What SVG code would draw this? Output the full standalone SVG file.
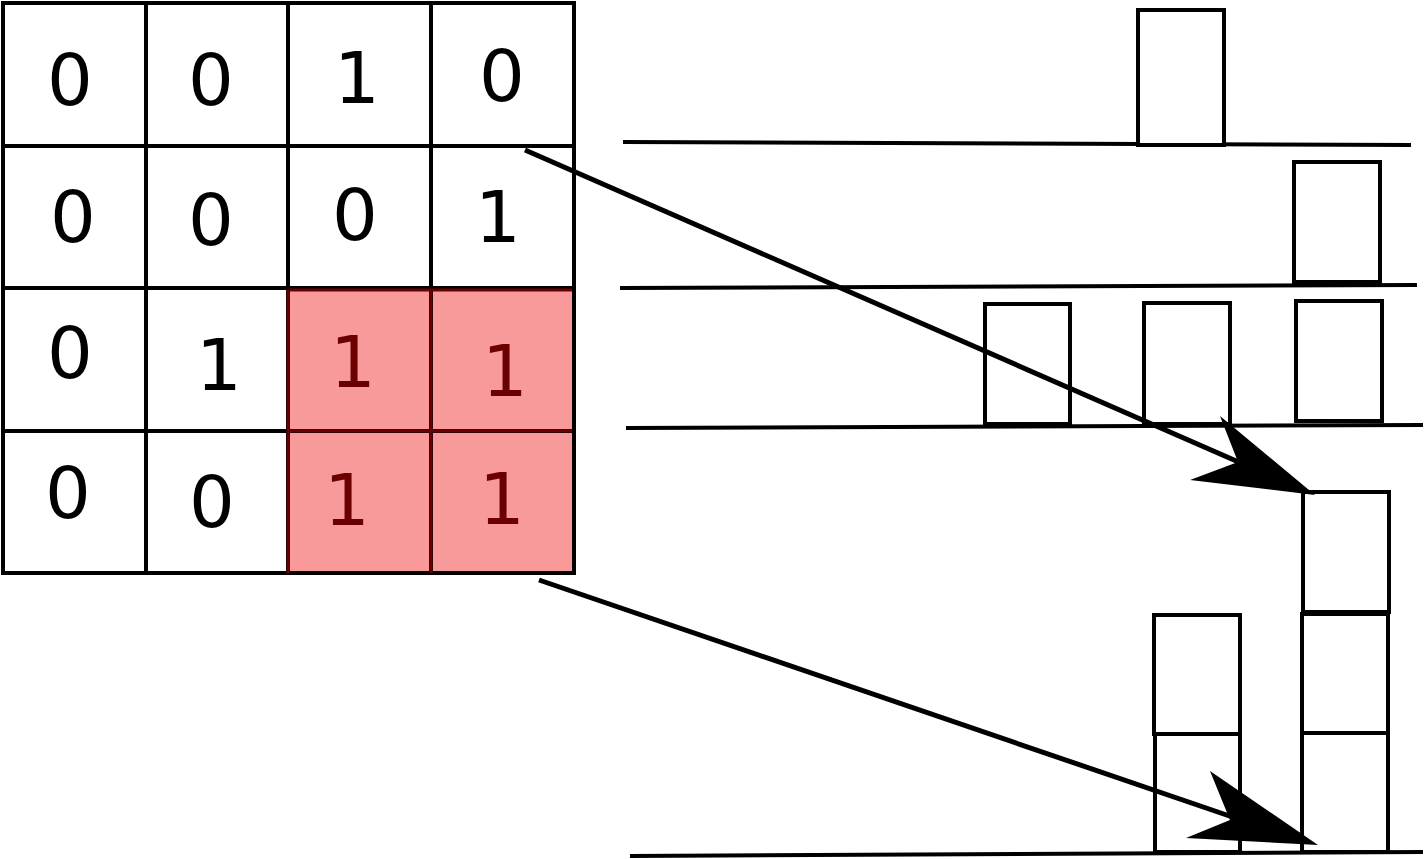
<svg xmlns="http://www.w3.org/2000/svg" width="1427" height="859" viewBox="0 0 1427 859">
<style>
.g{stroke:#000;stroke-width:4;fill:none}
.t{font-family:"DejaVu Sans",sans-serif;font-size:72px;text-anchor:middle;fill:#000}
.r{fill:#6b0000}
.b{fill:#fff;stroke:#000;stroke-width:4}
.c{stroke:#000;stroke-width:5;fill:none}
</style>
<rect width="1427" height="859" fill="#fff"/>
<g id="matrix">
<rect x="288" y="288" width="286" height="285" fill="#f89a9a" stroke="#888" stroke-width="4"/>
<path class="g" d="M3 3H574V573H3Z M146 3V573 M288 3V573 M431 3V573 M3 146H574 M3 288H574 M3 431H574"/>
<path d="M288 290V573 M431 290V573 M290 431H572 M290 290H572" stroke="#6b0000" stroke-width="3"/>
<text class="t" x="70" y="105">0</text><text class="t" x="211" y="105">0</text><text class="t" x="357" y="103">1</text><text class="t" x="502" y="101">0</text>
<text class="t" x="73" y="242">0</text><text class="t" x="211" y="245">0</text><text class="t" x="355" y="240">0</text><text class="t" x="498" y="242">1</text>
<text class="t" x="70" y="378">0</text><text class="t" x="219" y="390">1</text><text class="t r" x="353" y="387">1</text><text class="t r" x="505" y="396">1</text>
<text class="t" x="68" y="518">0</text><text class="t" x="212" y="527">0</text><text class="t r" x="347" y="525">1</text><text class="t r" x="502" y="524">1</text>
</g>
<g id="lines">
<path class="g" d="M623 142L1411 145 M620 288L1417 285 M626 428L1423 425 M630 856L1423 852"/>
</g>
<g id="boxes">
<rect class="b" x="1138" y="10" width="86" height="135"/>
<rect class="b" x="1294" y="162" width="86" height="120"/>
<rect class="b" x="985" y="304" width="85" height="120"/>
<rect class="b" x="1144" y="303" width="86" height="121"/>
<rect class="b" x="1296" y="301" width="86" height="120"/>
<rect class="b" x="1303" y="492" width="86" height="120"/>
<rect class="b" x="1302" y="614" width="86" height="119"/>
<rect class="b" x="1302" y="733" width="86" height="119"/>
<rect class="b" x="1154" y="615" width="86" height="119"/>
<rect class="b" x="1155" y="734" width="85" height="118"/>
</g>
<g id="connectors">
<path class="c" d="M525 150L1250 467"/>
<polygon points="1315,495 1220,416 1238,462 1190,480"/>
<path class="c" d="M539 580L1250 823"/>
<polygon points="1318,845 1210,771 1230,820 1186,838"/>
</g>
</svg>
